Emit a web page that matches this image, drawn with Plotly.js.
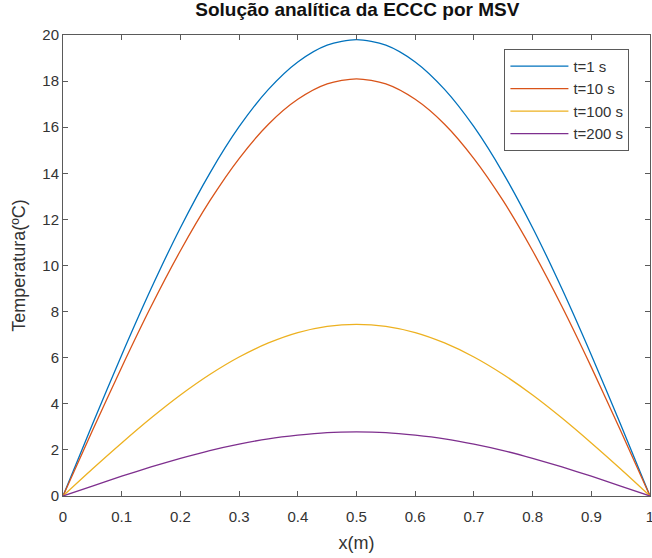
<!DOCTYPE html>
<html><head><meta charset="utf-8">
<script src="https://cdn.plot.ly/plotly-3.0.1.min.js"></script>
<style>body{margin:0;background:#fff}#c{width:652px;height:558px}</style>
</head><body><div id="c"></div>
<script>
const xPos = [0,0.05,0.1,0.15,0.2,0.25,0.3,0.35,0.4,0.45,0.5,0.55,0.6,0.65,0.7,0.75,0.8,0.85,0.9,0.95,1];
const t1   = [0,3.10,6.12,8.99,11.64,14.00,16.02,17.64,18.83,19.56,19.80,19.56,18.83,17.64,16.02,14.00,11.64,8.99,6.12,3.10,0];
const t10  = [0,2.83,5.59,8.22,10.64,12.80,14.64,16.13,17.21,17.88,18.10,17.88,17.21,16.13,14.64,12.80,10.64,8.22,5.59,2.83,0];
const t100 = [0,1.17,2.30,3.38,4.38,5.27,6.03,6.64,7.09,7.36,7.45,7.36,7.09,6.64,6.03,5.27,4.38,3.38,2.30,1.17,0];
const t200 = [0,0.43,0.86,1.26,1.63,1.97,2.25,2.48,2.64,2.75,2.78,2.75,2.64,2.48,2.25,1.97,1.63,1.26,0.86,0.43,0];
const names = ['t=1 s','t=10 s','t=100 s','t=200 s'];
const colors = ['#0072BD','#D95319','#EDB120','#7E2F8E'];
const series = [t1,t10,t100,t200];
const xTicks = [0,0.1,0.2,0.3,0.4,0.5,0.6,0.7,0.8,0.9,1];
const xTickText = ['0','0.1','0.2','0.3','0.4','0.5','0.6','0.7','0.8','0.9','1'];
const yTicks = [0,2,4,6,8,10,12,14,16,18,20];

const traces = series.map((s,i)=>({x:xPos,y:s,type:'scatter',mode:'lines',name:names[i],
  line:{color:colors[i],width:1.3,shape:'spline',smoothing:0.8}}));

const FONT = 'Liberation Sans, Arial, sans-serif';
const ax = {showgrid:false,zeroline:false,showline:true,linecolor:'#5a5a5a',linewidth:1,mirror:'ticks',
  ticks:'inside',ticklen:5,tickcolor:'#5a5a5a',ticklabeloverflow:'allow',
  tickfont:{family:FONT,size:15,color:'#333'}};
const layout = {
  width:652,height:558,margin:{l:63,r:2,t:35,b:62},paper_bgcolor:'#fff',plot_bgcolor:'#fff',
  font:{family:FONT,color:'#333'},
  title:{text:'<b>Solução analítica da ECCC por MSV</b>',font:{size:19,color:'#111'},x:0.548,xanchor:'center',y:0.995,yanchor:'top'},
  xaxis:Object.assign({},ax,{range:[0,1],tickvals:xTicks,ticktext:xTickText,ticklabelstandoff:7,
    title:{text:'x(m)',font:{size:18,color:'#333'},standoff:12}}),
  yaxis:Object.assign({},ax,{range:[0,20],tickvals:yTicks,
    title:{text:'Temperatura(ºC)',font:{size:18,color:'#333'},standoff:12}}),
  legend:{x:0.752,y:0.97,xanchor:'left',yanchor:'top',bordercolor:'#5a5a5a',borderwidth:1,bgcolor:'#fff',
    font:{size:15,color:'#333'},itemwidth:58,tracegroupgap:0},
  showlegend:true
};
Plotly.newPlot('c',traces,layout,{displayModeBar:false,staticPlot:true});
</script></body></html>
